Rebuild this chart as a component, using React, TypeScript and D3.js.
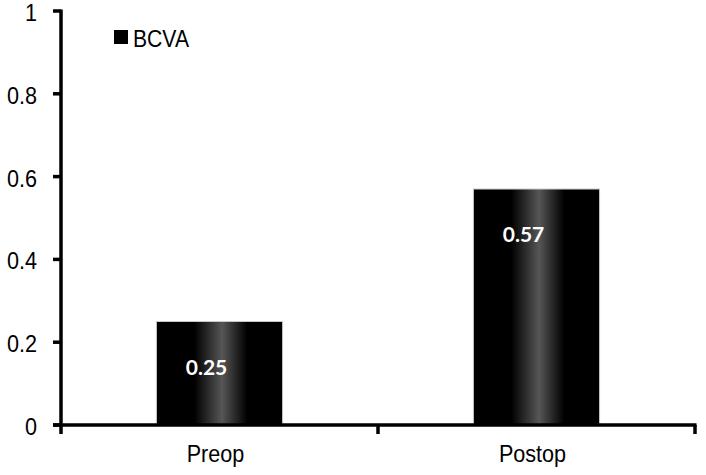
import React from "react";
import * as d3 from "d3";

const categories = ["Preop", "Postop"];
const values = [0.25, 0.57];
const valueLabels = ["0.25", "0.57"];
const yTicks = [0, 0.2, 0.4, 0.6, 0.8, 1];
const yTickLabels = ["0", "0.2", "0.4", "0.6", "0.8", "1"];
const seriesName = "BCVA";

const font = "'Liberation Sans', Arial, sans-serif";

function SText(props: {
  x: number;
  y: number;
  size: number;
  anchor?: "start" | "middle" | "end";
  sx?: number;
  dy?: string;
  children: React.ReactNode;
}) {
  const { x, y, size, anchor = "start", sx = 0.9, dy, children } = props;
  return (
    <g transform={`translate(${x},${y}) scale(${sx},1)`}>
      <text x={0} y={0} dy={dy} textAnchor={anchor} fontFamily={font} fontSize={size} fill="#000">
        {children}
      </text>
    </g>
  );
}

export default function App() {
  const W = 706;
  const H = 475;
  const axisX = 61;
  const axisRight = 695;
  const y = d3.scaleLinear().domain([0, 1]).range([425, 11]);
  const x = d3.scaleBand<string>().domain(categories).range([axisX, axisRight]).padding(0);
  const bw = x.bandwidth() * 0.398;
  const boundaries = [axisX, ...categories.map((c) => (x(c) as number) + x.bandwidth())];

  return (
    <svg
      width={W}
      height={H}
      viewBox={`0 0 ${W} ${H}`}
      style={{ position: "absolute", left: 0, top: 0, background: "#fff" }}
    >
      <defs>
        <linearGradient id="barGrad" x1="0" x2="1" y1="0" y2="0">
          <stop offset="0" stopColor="#000" />
          <stop offset="0.3" stopColor="#000" />
          <stop offset="0.52" stopColor="#565656" />
          <stop offset="0.72" stopColor="#000" />
          <stop offset="1" stopColor="#000" />
        </linearGradient>
      </defs>
      <rect x={0} y={0} width={W} height={H} fill="#fff" />

      {/* bars */}
      {categories.map((c, i) => {
        const cx = (x(c) as number) + x.bandwidth() / 2;
        const top = y(values[i]);
        return (
          <g key={c}>
            <rect
              x={cx - bw / 2}
              y={top}
              width={bw}
              height={y(0) - top}
              fill="url(#barGrad)"
              stroke="#c8c8c8"
              strokeWidth={1}
            />
            <text
              x={cx - 13}
              y={top + 53}
              textAnchor="middle"
              fill="#fff"
              fontFamily="Lato, 'Open Sans', sans-serif"
              fontWeight="bold"
              fontSize={21}
            >
              {valueLabels[i]}
            </text>
          </g>
        );
      })}

      {/* y axis */}
      <line x1={axisX} x2={axisX} y1={y(1) - 1.5} y2={y(0) + 1.5} stroke="#000" strokeWidth={3.5} />
      {yTicks.map((t, i) => (
        <g key={t}>
          <line x1={axisX - 8} x2={axisX} y1={y(t)} y2={y(t)} stroke="#000" strokeWidth={3.5} />
          <SText x={37} y={y(t)} dy="0.42em" size={24} anchor="end">
            {yTickLabels[i]}
          </SText>
        </g>
      ))}

      {/* x axis */}
      <line x1={axisX - 8} x2={axisRight + 1.5} y1={y(0)} y2={y(0)} stroke="#000" strokeWidth={3.5} />
      {boundaries.map((b, i) => (
        <line key={i} x1={b} x2={b} y1={y(0)} y2={y(0) + 9} stroke="#000" strokeWidth={3.5} />
      ))}
      {categories.map((c) => (
        <SText key={c} x={(x(c) as number) + x.bandwidth() / 2 - 4} y={462} size={24} anchor="middle">
          {c}
        </SText>
      ))}

      {/* legend */}
      <rect x={114} y={30} width={14} height={14} fill="#000" />
      <SText x={133} y={47} size={23} sx={0.92}>
        {seriesName}
      </SText>
    </svg>
  );
}
